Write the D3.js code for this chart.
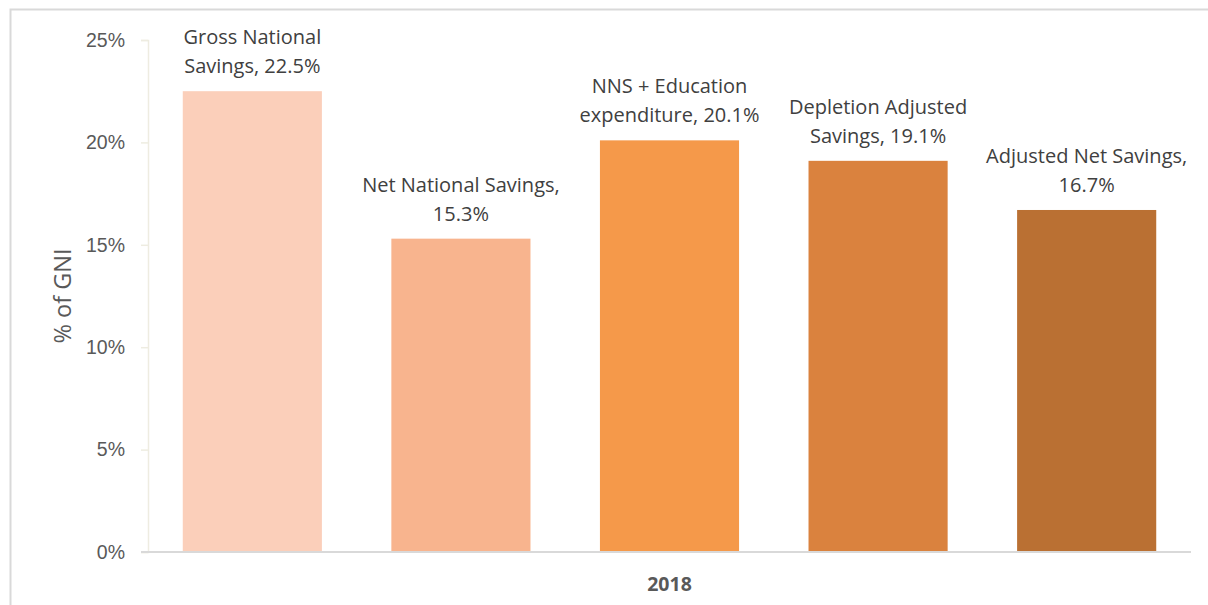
<!DOCTYPE html>
<html>
<head>
<meta charset="utf-8">
<script src="https://cdn.jsdelivr.net/npm/d3@7"></script>
<style>
  body { margin: 0; background: #fff; }
  svg { display: block; font-family: "Open Sans", Lato, sans-serif; }
</style>
</head>
<body>
<div class="chart"></div>
<script>
// data
const categories = ['Gross National Savings', 'Net National Savings', 'NNS + Education expenditure', 'Depletion Adjusted Savings', 'Adjusted Net Savings']
const values = [22.5, 15.3, 20.1, 19.1, 16.7]
const labelLines = [
  ['Gross National', 'Savings, 22.5%'],
  ['Net National Savings,', '15.3%'],
  ['NNS + Education', 'expenditure, 20.1%'],
  ['Depletion Adjusted', 'Savings, 19.1%'],
  ['Adjusted Net Savings,', '16.7%']
]
const colors = ['#FBCFBA', '#F8B48E', '#F5994A', '#DA823E', '#BA7033']
const yTicks = [0, 5, 10, 15, 20, 25]
const groupLabel = '2018'

const W = 1208, H = 605
const margin = { top: 40, right: 17, bottom: 53, left: 148 }
const width = W - margin.left - margin.right,
      height = H - margin.top - margin.bottom

const svg = d3.select('.chart')
  .append('svg')
  .attr('width', W)
  .attr('height', H)

// outer frame of the chart area
svg.append('path')
  .attr('d', 'M10.5,' + H + 'V9.5H' + W)
  .attr('fill', 'none')
  .attr('stroke', '#D9D9D9')
  .attr('stroke-width', 2)

const g = svg.append('g')
  .attr('transform', 'translate(' + margin.left + ',' + margin.top + ')')

const x = d3.scaleBand()
  .domain(categories)
  .range([0, width])
  .paddingInner(0.333)
  .paddingOuter(0.1667)

const y = d3.scaleLinear()
  .domain([0, 25])
  .range([height, 0])

// y axis
const yAxis = g.append('g')
  .call(d3.axisLeft(y).tickValues(yTicks).tickSize(7).tickPadding(16).tickFormat(d => d + '%'))
yAxis.select('.domain').attr('stroke', '#EEECE1').attr('stroke-width', 1.5)
yAxis.selectAll('.tick line').attr('stroke', '#EEECE1').attr('stroke-width', 1.5)
yAxis.selectAll('.tick text')
  .attr('fill', '#595959')
  .style('font-size', '19.5px')

// bars
g.selectAll('rect.bar')
  .data(values)
  .join('rect')
  .attr('class', 'bar')
  .attr('x', (d, i) => x(categories[i]))
  .attr('y', d => y(d))
  .attr('width', x.bandwidth())
  .attr('height', d => height - y(d))
  .attr('fill', (d, i) => colors[i])

// baseline
g.append('line')
  .attr('x1', -7)
  .attr('x2', width)
  .attr('y1', height)
  .attr('y2', height)
  .attr('stroke', '#D9D9D9')
  .attr('stroke-width', 2)

// data labels
const lab = g.selectAll('text.dlabel')
  .data(values)
  .join('text')
  .attr('class', 'dlabel')
  .attr('text-anchor', 'middle')
  .attr('fill', '#404040')
  .style('font-size', '20px')
  .attr('x', (d, i) => x(categories[i]) + x.bandwidth() / 2)
  .attr('y', d => y(d) - 18)

lab.selectAll('tspan')
  .data((d, i) => labelLines[i].map((t, k) => ({ t, k, n: labelLines[i].length })))
  .join('tspan')
  .attr('x', function () { return this.parentNode.getAttribute('x') })
  .attr('dy', d => d.k === 0 ? -(d.n - 1) * 29 : 29)
  .text(d => d.t)

// category label
g.append('text')
  .attr('x', width / 2)
  .attr('y', height + 39)
  .attr('text-anchor', 'middle')
  .attr('fill', '#595959')
  .style('font-size', '19.5px')
  .style('font-weight', 'bold')
  .text(groupLabel)

// y axis title
svg.append('text')
  .attr('transform', 'translate(71,' + (margin.top + height / 2) + ') rotate(-90)')
  .attr('text-anchor', 'middle')
  .attr('fill', '#595959')
  .style('font-size', '23.5px')
  .text('% of GNI')
</script>
</body>
</html>
